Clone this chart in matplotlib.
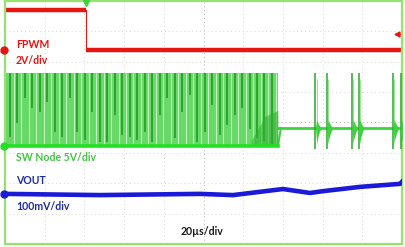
import numpy as np
from matplotlib import pyplot as plt

# time axis in us (20 us/div, 10 div), vertical axis in divisions (8 div)
fpwm_t = [0.0, 40.8, 40.8, 200.0]
fpwm_v = [3.69, 3.69, 2.40, 2.40]

sw_low = -0.77
sw_high = 1.63
sw_idle = -0.18
sw_start = 0.5
sw_end = 137.5
# bottom ends of the darker stripes inside the switching burst (div)
sw_dark_bottom = [-0.48, -0.02, 0.81, 0.48, 0.35, 0.67, -0.31, -0.48, 0.81,
                  -0.31, -0.58, 0.35, -0.64, -0.64, 0.25, -0.41, -0.48, -0.58,
                  -0.31, -0.64, 0.25, 0.81, -0.51, 0.35, 0.90, -0.64, -0.31,
                  0.58, -0.41, -0.08, 0.25, 0.48, -0.20, -0.50, -0.60, -0.70]
# single pulses after the converter leaves FPWM
spike_t = [156.4, 162.2, 174.8, 178.1, 195.5, 199.3]

vout_t = [0.0, 47.9, 98.2, 114.9, 140.0, 153.7, 160.2, 178.8, 199.0, 200.0]
vout_v = [-2.35, -2.39, -2.35, -2.39, -2.19, -2.32, -2.26, -2.12, -2.02, -1.95]

red = '#e8140f'
green = '#3dd33d'
blue = '#1a1ad8'

fig = plt.figure(figsize=(4.05, 2.47), dpi=100)
ax = fig.add_axes([5/405, 3/247, 397/405, 243/247])
ax.set_xlim(0, 200)
ax.set_ylim(-4, 4)
ax.set_xticks([])
ax.set_yticks([])
for s in ax.spines.values():
    s.set_color('#98e070')
    s.set_linewidth(1.6)

# graticule
for gx in range(20, 200, 20):
    ax.axvline(gx, color='#b0b0b0' if gx == 100 else '#d4d4d4', lw=0.7, ls=(0, (1, 3)), zorder=0)
for gy in range(-3, 4):
    ax.axhline(gy, color='#b0b0b0' if gy == 0 else '#d4d4d4', lw=0.7, ls=(0, (1, 3)), zorder=0)

# FPWM
ax.plot(fpwm_t[:2], fpwm_v[:2], color=red, lw=3.2, solid_capstyle='butt')
ax.plot(fpwm_t[1:3], fpwm_v[1:3], color=red, lw=0.8)
ax.plot(fpwm_t[2:], fpwm_v[2:], color=red, lw=3.2, solid_capstyle='butt')

# SW node burst
ax.fill_between([sw_start, sw_end], sw_low, sw_high, color='#66d966', lw=0, zorder=2)
pos = np.linspace(sw_start + 2.0, sw_end - 3.0, len(sw_dark_bottom))
step = pos[1] - pos[0]
ax.vlines(pos + step / 2, sw_low, sw_high, color='#c4f0c4', lw=0.8, zorder=3)
ax.vlines(pos, sw_dark_bottom, sw_high, color='#1e961e', lw=1.1, zorder=3)
ax.fill_between([124.0, 131.0, sw_end], sw_low, [-0.6, 0.2, 0.4], color='#32b032', alpha=0.6, lw=0, zorder=3)
ax.plot([sw_start, sw_end], [sw_low, sw_low], color='#22e022', lw=2.6, zorder=4)

# SW node idle with single pulses
ax.plot([sw_end, 200], [sw_idle, sw_idle], color=green, lw=2.0, zorder=2)
ax.plot([sw_end, sw_end + 1.5], [sw_low, sw_idle], color=green, lw=1.5, zorder=2)
ring_dt = [0.0, 0.6, 1.3, 2.0, 3.0]
ring_a = [0.0, 0.45, 0.28, 0.12, 0.0]
for t in spike_t:
    ax.vlines(t, sw_low - 0.1, sw_high, color='#2aa82a', lw=1.1, zorder=3)
    ax.vlines(t + 0.6, sw_low + 0.1, sw_high - 0.2, color='#9ee49e', lw=0.8, zorder=3)
    rt = [t + d for d in ring_dt]
    ax.fill_between(rt, [sw_idle - a for a in ring_a], [sw_idle + a * 0.6 for a in ring_a],
                    color=green, lw=0, zorder=3)

# VOUT
ax.plot(vout_t, vout_v, color=blue, lw=3.3, zorder=4)

# channel ground markers
for yv, c in [(2.40, red), (sw_low, '#22e022'), (vout_v[0], blue)]:
    ax.plot([-0.6], [yv], 'o', color=c, ms=5, clip_on=False, zorder=6)
ax.plot([197.3], [2.91], '<', color=red, ms=3.5, clip_on=False, zorder=6)
ax.plot([198.5, 200], [2.91, 2.91], color=red, lw=0.8, clip_on=False)
ax.plot([40.8], [3.93], 'v', color='#3dd33d', ms=4.5, clip_on=False, zorder=6)

fnt = dict(family=['Lato', 'DejaVu Sans'], fontweight='bold', fontsize=7.6, va='center')
ax.text(5.5, 2.58, 'FPWM', color=red, **fnt)
ax.text(5.5, 2.04, '2V/div', color=red, **fnt)
ax.text(5.5, -1.14, 'SW Node 5V/div', color='#42c442', **fnt)
ax.text(5.5, -1.91, 'VOUT', color='#1f2c9c', **fnt)
ax.text(5.5, -2.75, '100mV/div', color='#1f2c9c', **fnt)
ax.text(99.2, -3.58, '20µs/div', color='#1a1a1a', ha='center', **fnt)

fig.savefig('out.png', dpi=100)
